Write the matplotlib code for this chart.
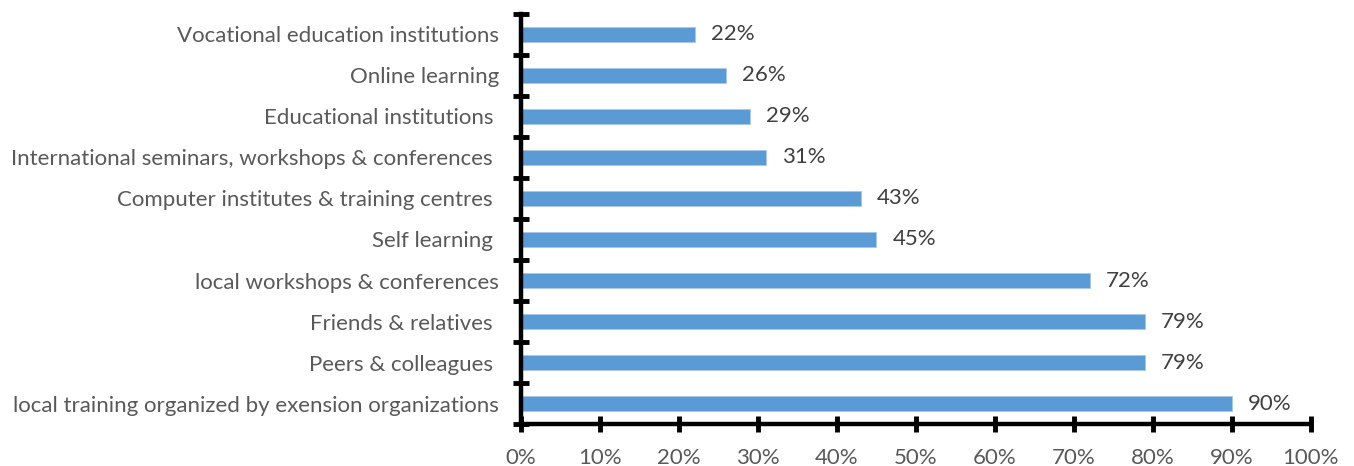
import matplotlib
matplotlib.use("Agg")
import matplotlib.pyplot as plt
import numpy as np
from matplotlib.ticker import FixedLocator, PercentFormatter

categories = [
    "local training organized by exension organizations",
    "Peers & colleagues ",
    "Friends & relatives ",
    "local workshops & conferences",
    "Self learning ",
    "Computer institutes & training centres ",
    "International seminars, workshops & conferences ",
    "Educational institutions ",
    "Online learning",
    "Vocational education institutions",
]
values = [90, 79, 79, 72, 45, 43, 31, 29, 26, 22]
x_ticks = list(range(0, 101, 10))

plt.rcParams["font.family"] = ["Lato", "DejaVu Sans"]

fig = plt.figure(figsize=(13.54, 4.66), dpi=100)
ax = fig.add_axes([0.3848, 0.0901, 0.9682 - 0.3848, 0.97 - 0.0901])

y = np.arange(len(categories))
ax.barh(y, values, height=0.37, color="#5B9BD5", edgecolor="#A9C8E8", linewidth=0.6, zorder=2)

for yi, v in zip(y, values):
    ax.text(v + 2.0, yi, f"{v}%", va="center", ha="left", fontsize=16, color="#404040")

ax.set_xlim(0, 100)
ax.set_ylim(-0.5, len(categories) - 0.5)
ax.set_yticks(y)
ax.set_yticklabels(categories, fontsize=16, color="#595959")
ax.yaxis.set_minor_locator(FixedLocator(np.arange(-0.5, len(categories), 1.0)))
ax.set_xticks(x_ticks)
ax.xaxis.set_major_formatter(PercentFormatter(decimals=0))
for lab in ax.get_xticklabels():
    lab.set_fontsize(16)
    lab.set_color("#595959")

for s in ["top", "right"]:
    ax.spines[s].set_visible(False)
for s in ["left", "bottom"]:
    ax.spines[s].set_linewidth(3.2)
    ax.spines[s].set_color("black")
    ax.spines[s].set_zorder(3)

ax.tick_params(axis="y", which="major", length=0, pad=16)
ax.tick_params(axis="y", which="minor", direction="inout", length=11, width=3.5, color="black")
ax.tick_params(axis="x", which="major", direction="inout", length=12, width=3.5, color="black", pad=11)

fig.savefig("out.png", dpi=100)
